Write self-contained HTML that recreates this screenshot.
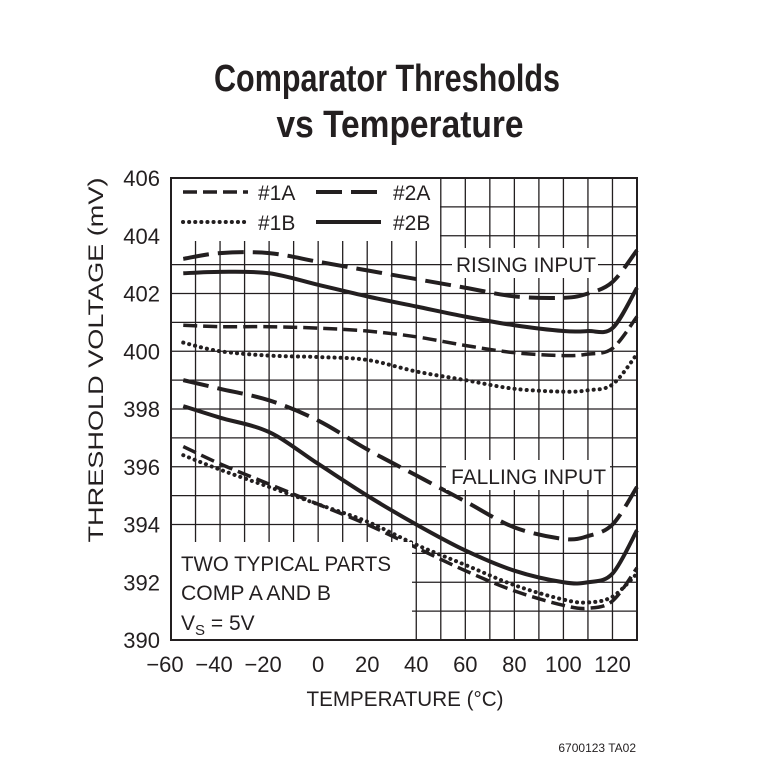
<!DOCTYPE html>
<html><head><meta charset="utf-8"><style>
body{margin:0;background:#fff}
svg text{font-family:"Liberation Sans",sans-serif;fill:#231f20}
</style></head><body>
<svg id="c" width="762" height="770" viewBox="0 0 762 770">
<text x="387" y="91" font-size="38" font-weight="bold" text-anchor="middle" textLength="346" lengthAdjust="spacingAndGlyphs">Comparator Thresholds</text>
<text x="400" y="137" font-size="38" font-weight="bold" text-anchor="middle" textLength="247" lengthAdjust="spacingAndGlyphs">vs Temperature</text>
<g id="grid"></g>
<g id="series"></g>
<g id="overlay"></g>
<text x="0" y="0" font-size="21" text-anchor="middle" transform="translate(103,360) rotate(-90)" textLength="365" lengthAdjust="spacingAndGlyphs">THRESHOLD VOLTAGE (mV)</text>
<text x="405" y="706" font-size="21" text-anchor="middle" textLength="197" lengthAdjust="spacingAndGlyphs">TEMPERATURE (°C)</text>
<text x="636" y="752" font-size="12" text-anchor="end">6700123 TA02</text>
</svg>
<script>
const xTicks=[-60,-40,-20,0,20,40,60,80,100,120];
const yTicks=[390,392,394,396,398,400,402,404,406];
const temps=[-55,-40,-20,0,20,40,60,80,100,110,120,130];
const r2A=[403.2,403.4,403.4,403.1,402.8,402.5,402.2,401.9,401.85,402.0,402.4,403.5];
const r2B=[402.7,402.75,402.7,402.3,401.9,401.55,401.2,400.9,400.7,400.7,400.8,402.2];
const r1A=[400.9,400.85,400.85,400.8,400.7,400.5,400.2,399.95,399.85,399.9,400.1,401.2];
const r1B=[400.3,400.0,399.85,399.8,399.7,399.3,399.0,398.7,398.6,398.65,398.85,399.9];
const f2A=[399.0,398.7,398.3,397.6,396.6,395.7,394.8,393.9,393.5,393.6,394.0,395.3];
const f2B=[398.1,397.7,397.2,396.1,395.0,394.0,393.1,392.4,392.0,392.0,392.3,393.8];
const f1A=[396.7,396.1,395.4,394.7,394.0,393.2,392.4,391.7,391.2,391.1,391.35,392.5];
const f1B=[396.4,395.9,395.3,394.7,394.1,393.3,392.6,391.9,391.4,391.3,391.5,392.3];
const X0=171,X1=637,Y0=640,Y1=178;
const xs=t=>X0+(t+60)*(X1-X0)/190;
const ys=v=>Y0-(v-390)*(Y0-Y1)/16;
const NS="http://www.w3.org/2000/svg";
function mk(tag,attrs,parent){const e=document.createElementNS(NS,tag);for(const k in attrs)e.setAttribute(k,attrs[k]);parent.appendChild(e);return e;}
const grid=document.getElementById('grid');
for(let t=-60;t<=130;t+=10){const l=mk('line',{x1:xs(t),x2:xs(t),y1:Y1,y2:Y0,stroke:'#231f20','stroke-width':1.3},grid);

}
for(let v=390;v<=406;v+=1){const l=mk('line',{x1:X0,x2:X1,y1:ys(v),y2:ys(v),stroke:'#231f20','stroke-width':1.3},grid);

}
const fr=mk('rect',{x:X0,y:Y1,width:X1-X0,height:Y0-Y1,fill:'none',stroke:'#231f20','stroke-width':2},grid);


xTicks.forEach(t=>{const e=mk('text',{x:xs(t)+(t<0?-6:0),y:672,'font-size':22,'text-anchor':'middle'},grid);e.textContent=(t<0?'\u2212'+(-t):t);

});
yTicks.forEach(v=>{const e=mk('text',{x:160,y:ys(v)+8,'font-size':22,'text-anchor':'end'},grid);e.textContent=v;

});
function pathD(vals){const p=temps.map((t,i)=>[xs(t),ys(vals[i])]);let d='M'+p[0][0]+','+p[0][1];
for(let i=0;i<p.length-1;i++){const p0=p[i-1]||p[i],p1=p[i],p2=p[i+1],p3=p[i+2]||p2;
d+=` C${p1[0]+(p2[0]-p0[0])/6},${p1[1]+(p2[1]-p0[1])/6} ${p2[0]-(p3[0]-p1[0])/6},${p2[1]-(p3[1]-p1[1])/6} ${p2[0]},${p2[1]}`;}return d;}
const styles={'1A':{dash:'14 6',w:3.5},'2A':{dash:'26 9',w:4},'1B':{dash:'0.1 6',w:4,cap:'round'},'2B':{dash:'none',w:4}};
const ser=document.getElementById('series');
[['r2A',r2A,'2A'],['r2B',r2B,'2B'],['r1A',r1A,'1A'],['r1B',r1B,'1B'],['f2A',f2A,'2A'],['f2B',f2B,'2B'],['f1A',f1A,'1A'],['f1B',f1B,'1B']].forEach(([n,v,s])=>{
const st=styles[s];const p=mk('path',{d:pathD(v),fill:'none',stroke:'#231f20','stroke-width':st.w,'stroke-dasharray':st.dash,'stroke-linecap':st.cap||'butt'},ser);

});
const ov=document.getElementById('overlay');
function box(x,y,w,h,name){const r=mk('rect',{x,y,width:w,height:h,fill:'#fff'},ov);

}
box(172,179,268,62,'legend');
box(172,542,240,97,'annotation-box');
box(452,248,146,30,'rising-label-bg');
box(446,460,164,30,'falling-label-bg');
function txt(x,y,s,name,size,len){const e=mk('text',{x,y,'font-size':size||22},ov);e.textContent=s;if(len){e.setAttribute('textLength',len);e.setAttribute('lengthAdjust','spacingAndGlyphs');}

return e;}
[['1A',183,199,258,'#1A'],['2A',316,199,393,'#2A'],['1B',183,229,258,'#1B'],['2B',316,229,393,'#2B']].forEach(([s,x,y,tx,lab])=>{
const st=styles[s];const l=mk('line',{x1:x,x2:x+65,y1:y-7,y2:y-7,stroke:'#231f20','stroke-width':st.w,'stroke-dasharray':st.dash,'stroke-linecap':st.cap||'butt'},ov);


txt(tx,y+1,lab,'legend-label-'+s,21);});
txt(456,272,'RISING INPUT','rising-input-label',21,140);
txt(451,484,'FALLING INPUT','falling-input-label',21,155);
txt(181,571,'TWO TYPICAL PARTS','note-line1',21,210);
txt(181,600,'COMP A AND B','note-line2',21,150);
const vs=txt(181,630,'V','note-line3',21);
const sub=mk('tspan',{'font-size':15,dy:5},vs);sub.textContent='S';
const rest=mk('tspan',{dy:-5},vs);rest.textContent=' = 5V';
</script>
</body></html>
